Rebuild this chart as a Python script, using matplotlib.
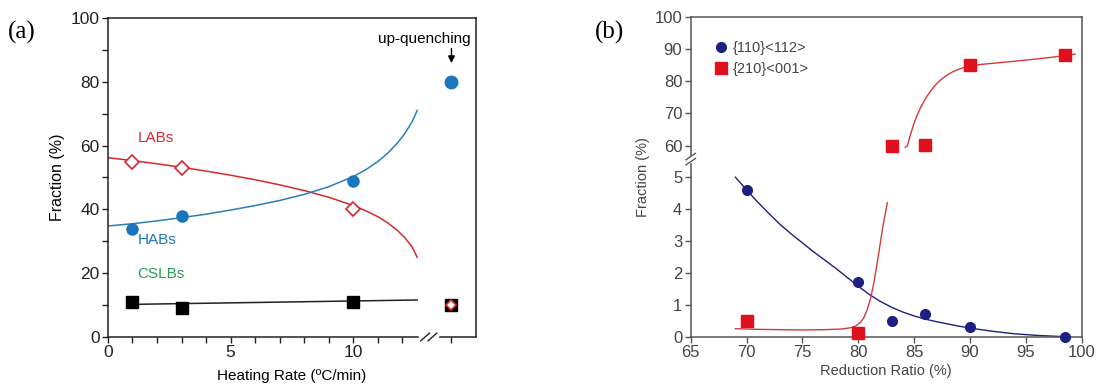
import numpy as np
import matplotlib.pyplot as plt
from matplotlib.lines import Line2D

plt.rcParams['font.family'] = ['Liberation Sans', 'DejaVu Sans']

# panel (a): boundary fractions vs heating rate
rate = [1, 3, 10]
labs = [55, 53, 40]
habs = [34, 38, 49]
cslbs = [11, 9, 11]
quench_labs, quench_habs, quench_cslbs = 10, 80, 10

labs_fit_x = [0, 1, 2, 3, 4, 5, 6, 7, 8, 9, 10, 10.5, 11, 11.4, 11.8, 12.1, 12.4, 12.6]
labs_fit_y = [56.2, 55.3, 54.3, 53.2, 52.0, 50.7, 49.3, 47.7, 45.9, 43.8, 41.2, 39.6, 37.7, 35.8, 33.4, 31.1, 28.2, 25.0]
habs_fit_x = [0, 1, 2, 3, 4, 5, 6, 7, 8, 9, 10, 10.5, 11, 11.4, 11.8, 12.1, 12.4, 12.6]
habs_fit_y = [34.8, 35.5, 36.4, 37.4, 38.5, 39.8, 41.2, 42.8, 44.7, 47.1, 50.3, 52.4, 55.0, 57.6, 60.8, 63.8, 67.5, 71.0]
cslbs_fit_x = [0.8, 12.6]
cslbs_fit_y = [10.2, 11.6]

# panel (b): texture fractions vs reduction ratio
ratio = [70, 80, 83, 86, 90, 98.5]
frac_110 = [4.6, 1.7, 0.5, 0.7, 0.3, 0.0]
frac_210 = [0.5, 0.1, 60.0, 60.3, 85.0, 88.0]

fit110_x = [69, 70, 71, 72, 73, 74, 75, 76, 77, 78, 79, 80, 81, 82, 83, 84, 85, 86, 87, 88,
            89, 90, 92, 94, 96, 98.5]
fit110_y = [5.0, 4.6, 4.22, 3.86, 3.52, 3.22, 2.94, 2.66, 2.4, 2.14, 1.86, 1.58, 1.32, 1.1, 0.92,
            0.77, 0.65, 0.55, 0.47, 0.4, 0.33, 0.27, 0.17, 0.09, 0.04, 0.0]
fit210_lo_x = [69, 71, 73, 75, 77, 78.5, 79.3, 79.8, 80.2, 80.5, 80.8, 81.1, 81.4, 81.8, 82.2, 82.6]
fit210_lo_y = [0.25, 0.23, 0.22, 0.21, 0.22, 0.24, 0.28, 0.34, 0.45, 0.6, 0.85, 1.2, 1.7, 2.55, 3.45, 4.2]
fit210_hi_x = [84.2, 84.4, 84.6, 84.9, 85.2, 85.6, 86.1, 86.6, 87.0, 87.5, 88.0, 88.5, 89.0, 89.5,
               90.0, 91.0, 92.5, 94.0, 96.0, 98.5, 99.4]
fit210_hi_y = [57.0, 60.0, 62.6, 66.0, 68.9, 72.0, 75.1, 77.5, 79.2, 80.8, 82.0, 83.0, 83.7, 84.3,
               84.7, 85.2, 85.7, 86.2, 86.9, 87.9, 88.4]

red_a = '#d7282f'
blue_a = '#1b76bc'
green_a = '#22a050'
navy = '#1c2080'
red_b = '#e0101e'
quench_x = 14

fig = plt.figure(figsize=(10.96, 3.85), dpi=100)

# ---------------- (a)
ax = fig.add_axes([0.0985, 0.1247, 0.3358, 0.8286])
ax.plot(labs_fit_x, labs_fit_y, color=red_a, lw=1.1)
ax.plot(habs_fit_x, habs_fit_y, color='#2a7fb5', lw=1.1)
ax.plot(cslbs_fit_x, cslbs_fit_y, color='#222222', lw=1.1)
ax.plot(rate, cslbs, 's', color='black', ms=8)
ax.plot(rate, habs, 'o', color=blue_a, ms=8)
ax.plot(rate, labs, 'D', mfc='white', mec=red_a, mew=1.2, ms=7)
ax.plot([quench_x], [quench_cslbs], 's', color='black', ms=8)
ax.plot([quench_x], [quench_labs], 'D', mfc='white', mec=red_a, mew=1.2, ms=5)
ax.plot([quench_x], [quench_habs], 'o', color=blue_a, ms=9)

ax.set_xlim(0, 15)
ax.set_ylim(0, 100)
ax.set_xticks([0, 5, 10])
ax.set_xticks([1, 2, 3, 4, 6, 7, 8, 9, 11, 12, 14], minor=True)
ax.set_yticks([0, 20, 40, 60, 80, 100])
ax.set_yticks([10, 30, 50, 70, 90], minor=True)
ax.tick_params(which='both', direction='out', length=4, width=1, labelsize=12.5, pad=2, colors='#222222')
ax.spines['bottom'].set_visible(False)
for s in ['left', 'right', 'top']:
    ax.spines[s].set_linewidth(1.1)
    ax.spines[s].set_color('#222222')
tr = ax.get_xaxis_transform()
ax.plot([0, 12.65], [0, 0], color='#222222', lw=1.1, transform=tr, clip_on=False)
ax.plot([13.55, 15], [0, 0], color='#222222', lw=1.1, transform=tr, clip_on=False)
ax.plot([12.75, 13.1], [-0.012, 0.012], color='#222222', lw=1, transform=tr, clip_on=False)
ax.plot([13.05, 13.4], [-0.012, 0.012], color='#222222', lw=1, transform=tr, clip_on=False)

ax.set_ylabel('Fraction (%)', fontsize=11.5, labelpad=4)
ax.set_xlabel('Heating Rate (ºC/min)', fontsize=11, labelpad=6)
ax.text(1.2, 61, 'LABs', color=red_a, fontsize=11)
ax.text(1.2, 29, 'HABs', color=blue_a, fontsize=11)
ax.text(1.2, 18.5, 'CSLBs', color=green_a, fontsize=11)
ax.text(12.9, 93.5, 'up-quenching', fontsize=11, ha='center', va='center')
ax.annotate('', xy=(quench_x, 85), xytext=(quench_x, 91.3),
            arrowprops=dict(arrowstyle='-|>', color='black', lw=1, mutation_scale=10))

# ---------------- (b)
def fwd(y):
    return np.interp(y, [0, 5, 60, 100], [0, 5, 5.99, 10.03])


def inv(u):
    return np.interp(u, [0, 5, 5.99, 10.03], [0, 5, 60, 100])


bx = fig.add_axes([0.6302, 0.1255, 0.3568, 0.831])
bx.set_yscale('function', functions=(fwd, inv))
bx.plot(fit110_x, fit110_y, color=navy, lw=1.0)
bx.plot(fit210_lo_x, fit210_lo_y, color='#d23a3a', lw=1.0)
bx.plot(fit210_hi_x, fit210_hi_y, color='#d23a3a', lw=1.0)
bx.plot(ratio, frac_110, 'o', color=navy, ms=7, clip_on=False, zorder=4)
bx.plot(ratio, frac_210, 's', color=red_b, ms=8.5, clip_on=False, zorder=4)
bx.set_xlim(65, 100)
bx.set_ylim(0, 100)
bx.set_xticks([65, 70, 75, 80, 85, 90, 95, 100])
bx.set_yticks([0, 1, 2, 3, 4, 5, 60, 70, 80, 90, 100])
bx.set_yticklabels(['0', '1', '2', '3', '4', '5', '60', '70', '80', '90', '100'])
bx.minorticks_off()
bx.tick_params(direction='out', length=4, width=1, labelsize=12, pad=2, colors='#555555', labelcolor='#444444')
for s in bx.spines.values():
    s.set_color('#555555')
    s.set_linewidth(1.1)
bx.set_ylabel('Fraction (%)', fontsize=10.5, color='#444444', labelpad=3)
bx.set_xlabel('Reduction Ratio (%)', fontsize=10.5, color='#444444', labelpad=3)
# broken y axis mark
bt = bx.transAxes
bx.plot([0, 0], [0.548, 0.562], color='white', lw=2.5, transform=bt, clip_on=False, zorder=5)
bx.plot([-0.012, 0.012], [0.537, 0.557], color='#555555', lw=1, transform=bt, clip_on=False, zorder=6)
bx.plot([-0.012, 0.012], [0.553, 0.573], color='#555555', lw=1, transform=bt, clip_on=False, zorder=6)

handles = [Line2D([], [], marker='o', ls='none', color=navy, ms=7),
           Line2D([], [], marker='s', ls='none', color=red_b, ms=8)]
bx.legend(handles, ['{110}<112>', '{210}<001>'], loc='upper left', bbox_to_anchor=(0.03, 0.965),
          frameon=False, fontsize=10.5, handlelength=0.8, handletextpad=0.4, labelspacing=0.45,
          labelcolor='#444444')

fig.text(0.007, 0.915, '(a)', fontsize=18, family=['Liberation Serif', 'DejaVu Serif'], va='center')
fig.text(0.543, 0.915, '(b)', fontsize=18, family=['Liberation Serif', 'DejaVu Serif'], va='center')

fig.savefig('out.png', dpi=100)
